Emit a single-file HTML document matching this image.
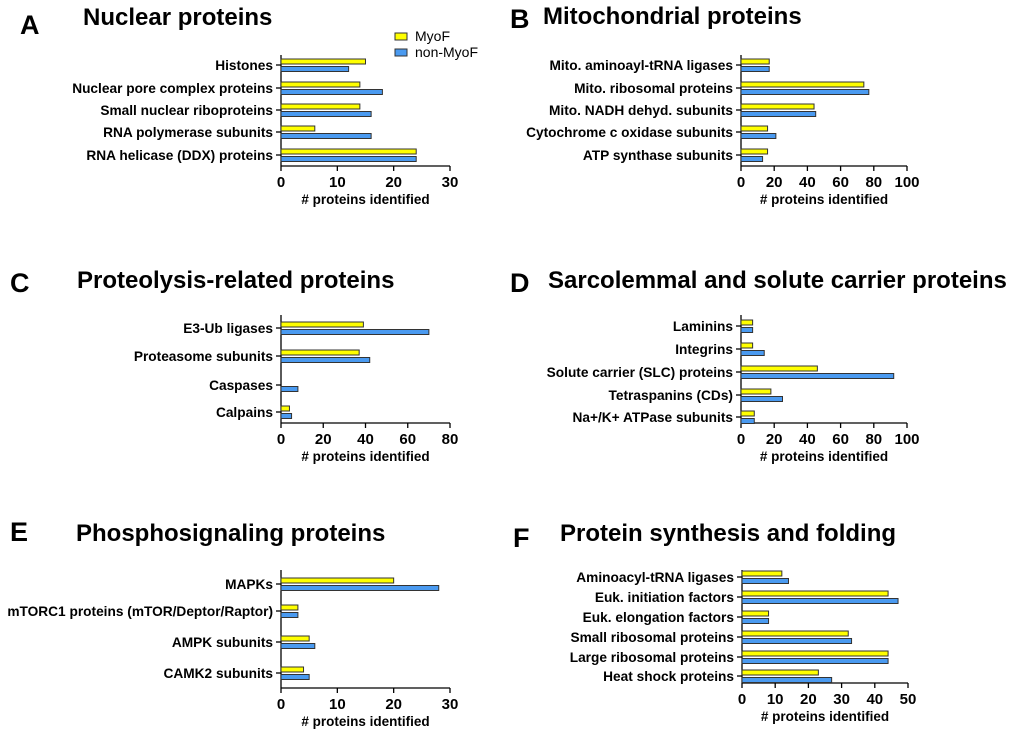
<!DOCTYPE html>
<html><head><meta charset="utf-8">
<style>
body{margin:0;background:#fff;}
svg{display:block;font-family:"Liberation Sans",Arial,sans-serif;}
</style></head>
<body>
<svg id="chart" width="1020" height="735" viewBox="0 0 1020 735"></svg>
<script>
// ---- data ----
const catsA=["Histones","Nuclear pore complex proteins","Small nuclear riboproteins","RNA polymerase subunits","RNA helicase (DDX) proteins"];
const myoA=[15,14,14,6,24];
const nonA=[12,18,16,16,24];
const ticksA=[0,10,20,30];

const catsB=["Mito. aminoayl-tRNA ligases","Mito. ribosomal proteins","Mito. NADH dehyd. subunits","Cytochrome c oxidase subunits","ATP synthase subunits"];
const myoB=[17,74,44,16,16];
const nonB=[17,77,45,21,13];
const ticksB=[0,20,40,60,80,100];

const catsC=["E3-Ub ligases","Proteasome subunits","Caspases","Calpains"];
const myoC=[39,37,0,4];
const nonC=[70,42,8,5];
const ticksC=[0,20,40,60,80];

const catsD=["Laminins","Integrins","Solute carrier (SLC) proteins","Tetraspanins (CDs)","Na+/K+ ATPase subunits"];
const myoD=[7,7,46,18,8];
const nonD=[7,14,92,25,8];
const ticksD=[0,20,40,60,80,100];

const catsE=["MAPKs","mTORC1 proteins (mTOR/Deptor/Raptor)","AMPK subunits","CAMK2 subunits"];
const myoE=[20,3,5,4];
const nonE=[28,3,6,5];
const ticksE=[0,10,20,30];

const catsF=["Aminoacyl-tRNA ligases","Euk. initiation factors","Euk. elongation factors","Small ribosomal proteins","Large ribosomal proteins","Heat shock proteins"];
const myoF=[12,44,8,32,44,23];
const nonF=[14,47,8,33,44,27];
const ticksF=[0,10,20,30,40,50];

const svg=document.getElementById('chart');
const NS='http://www.w3.org/2000/svg';
function mk(tag,attrs,parent){const e=document.createElementNS(NS,tag);for(const k in attrs)e.setAttribute(k,attrs[k]);(parent||svg).appendChild(e);return e;}
function txt(s,attrs,parent){const e=mk('text',attrs,parent);e.textContent=s;return e;}

function panel(id,letter,title,lx,ly,tx,ty,cats,myo,non,ticks,x0,x1,yTop,yAxis,catY){
  const g=mk('g',{});
  
  
  const L=txt(letter,{x:lx,y:ly,'font-size':27,'font-weight':'bold',fill:'#000'},g);
  
  
  const T=txt(title,{x:tx,y:ty,'font-size':24,'font-weight':'bold',fill:'#000'},g);
  
  
  const max=ticks[ticks.length-1];
  const sx=v=>x0+(x1-x0)*v/max;
  const ya=mk('line',{x1:x0,y1:yTop,x2:x0,y2:yAxis,stroke:'#000','stroke-width':1.3},g);
  
  
  const xa=mk('line',{x1:x0,y1:yAxis,x2:x1,y2:yAxis,stroke:'#000','stroke-width':1.3},g);
  
  
  ticks.forEach(t=>{
    mk('line',{x1:sx(t),y1:yAxis,x2:sx(t),y2:yAxis+5,stroke:'#000','stroke-width':1.3},g);
    const tl=txt(String(t),{x:sx(t),y:yAxis+21,'font-size':15,'font-weight':'bold','text-anchor':'middle'},g);
    
    
  });
  const at=txt('# proteins identified',{x:(x0+x1)/2,y:yAxis+38,'font-size':13.5,'font-weight':'bold','text-anchor':'middle'},g);
  
  
  cats.forEach((c,i)=>{
    const cy=catY[i];
    mk('line',{x1:x0-5,y1:cy,x2:x0,y2:cy,stroke:'#000','stroke-width':1.3},g);
    const cl=txt(c,{x:x0-8,y:cy+5,'font-size':13.7,'font-weight':'bold','text-anchor':'end'},g);
    
    
    const b1=mk('rect',{x:x0,y:cy-6,width:Math.max(sx(myo[i])-x0,0),height:5,fill:'#ffff00',stroke:'#333','stroke-width':1},g);
    
    
    const b2=mk('rect',{x:x0,y:cy+1.5,width:Math.max(sx(non[i])-x0,0),height:5,fill:'#4a9af0',stroke:'#333','stroke-width':1},g);
    
    
  });
}

panel('a','A','Nuclear proteins',20,34,83,25,catsA,myoA,nonA,ticksA,281,450,55,166,[65,88,110,132,155]);
panel('b','B','Mitochondrial proteins',510,28,543,24,catsB,myoB,nonB,ticksB,741,907,55,166,[65,88,110,132,155]);
panel('c','C','Proteolysis-related proteins',10,292,77,288,catsC,myoC,nonC,ticksC,281,450,315,423,[328,356,385,412]);
panel('d','D','Sarcolemmal and solute carrier proteins',510,292,548,288,catsD,myoD,nonD,ticksD,741,907,315,423,[326,349,372,395,417]);
panel('e','E','Phosphosignaling proteins',10,541,76,541,catsE,myoE,nonE,ticksE,281,450,570,688,[584,611,642,673]);
panel('f','F','Protein synthesis and folding',513,547,560,541,catsF,myoF,nonF,ticksF,742,908,570,683,[577,597,617,637,657,676]);

const lg=mk('g',{});


const r1=mk('rect',{x:395,y:33,width:12,height:7,fill:'#ffff00',stroke:'#333','stroke-width':1},lg);


const t1=txt('MyoF',{x:415,y:41,'font-size':14},lg);


const r2=mk('rect',{x:395,y:49,width:12,height:7,fill:'#4a9af0',stroke:'#333','stroke-width':1},lg);


const t2=txt('non-MyoF',{x:415,y:57,'font-size':14},lg);


</script>
</body></html>
